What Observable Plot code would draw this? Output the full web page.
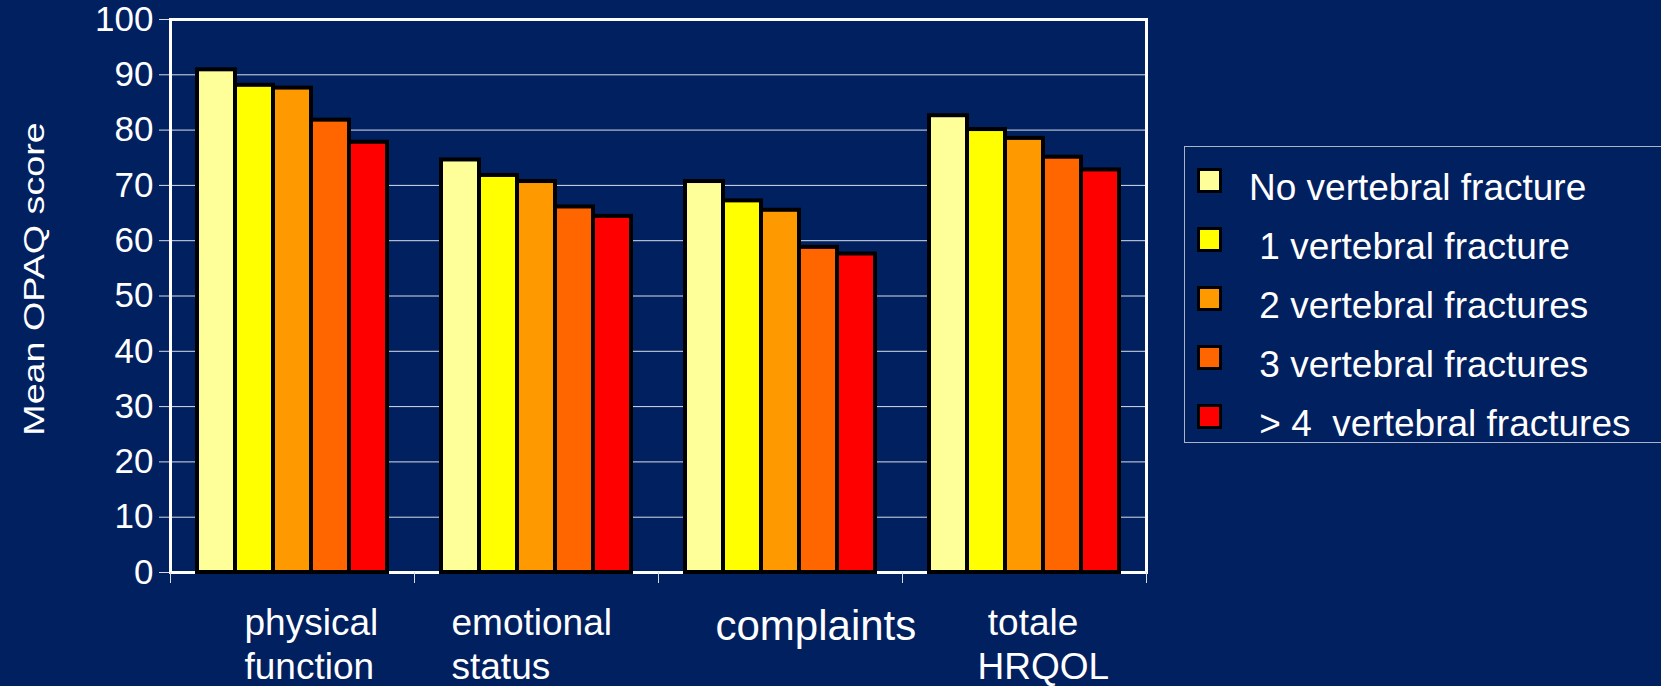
<!DOCTYPE html>
<html>
<head>
<meta charset="utf-8">
<script src="https://cdn.jsdelivr.net/npm/d3@7"></script>
<script src="https://cdn.jsdelivr.net/npm/@observablehq/plot@0.6"></script>
<style>
  html, body { margin: 0; padding: 0; background: #002060; }
  body { width: 1661px; height: 686px; position: relative; overflow: hidden;
         font-family: "Liberation Sans", Arial, sans-serif; }
  #chart { position: absolute; left: 0; top: 0; }
  #legend { position: absolute; left: 1184px; top: 146px; width: 490px; height: 297px;
            border: 1px solid #aab3c8; box-sizing: border-box; padding-top: 4px; }
  .row { display: flex; align-items: center; height: 59px; }
  .sw { width: 25px; height: 25px; box-sizing: border-box; border: 3px solid #000; margin-left: 12px; flex: none; }
  .lab { color: #fff; font-size: 37px; white-space: pre; margin-left: 27px; position: relative; top: 7px; line-height: 1; }
</style>
</head>
<body>
<div id="chart"></div>
<div id="legend"></div>
<script>
// Mean OPAQ scores by domain and number of vertebral fractures
const categories = ["physical function", "emotional status", "complaints", "totale HRQOL"];
const categoryLines = ["physical\nfunction", "emotional\nstatus", "complaints", "\u00a0totale\nHRQOL"];
const series = [
  "No vertebral fracture",
  " 1 vertebral fracture",
  " 2 vertebral fractures",
  " 3 vertebral fractures",
  " > 4  vertebral fractures"
];
const colors = ["#FFFF99", "#FFFF00", "#FF9900", "#FF6600", "#FF0000"];

const physicalFunction = [90.9, 88.1, 87.6, 81.8, 77.8];
const emotionalStatus  = [74.6, 71.8, 70.7, 66.1, 64.4];
const complaintsScore  = [70.7, 67.2, 65.5, 58.8, 57.6];
const totaleHrqol      = [82.6, 80.1, 78.5, 75.1, 72.8];

const yTicks = [0, 10, 20, 30, 40, 50, 60, 70, 80, 90, 100];
const yLabel = "Mean OPAQ score";

const values = [physicalFunction, emotionalStatus, complaintsScore, totaleHrqol];
const data = categories.flatMap((c, i) =>
  series.map((s, j) => ({category: c, series: s, value: values[i][j]}))
);

// layout
const W = 1661, H = 686, mTop = 19, mBottom = 114, mLeft = 168, mRight = 514;
const frameH = H - mTop - mBottom;
const labelDx = [74, 37, 57, 75];
const labelDy = [31, 31, 32, 31];
const labelSize = [37, 37, 42, 37];

const categoryLabels = categories.map((c, i) =>
  Plot.text([c], {
    fx: d => d,
    text: () => categoryLines[i],
    frameAnchor: "bottom-left",
    textAnchor: "start",
    lineAnchor: "top",
    lineHeight: 1.2,
    dx: labelDx[i],
    dy: labelDy[i],
    fontSize: labelSize[i],
    fill: "white"
  })
);

const chart = Plot.plot({
  width: W,
  height: H,
  marginTop: mTop,
  marginBottom: mBottom,
  marginLeft: mLeft,
  marginRight: mRight,
  style: {
    background: "#002060",
    color: "white",
    fontFamily: "'Liberation Sans', Arial, sans-serif",
    overflow: "visible"
  },
  fx: {domain: categories, padding: 0, axis: null, label: null},
  x: {domain: series, paddingInner: 0, paddingOuter: 0.7, axis: null},
  y: {domain: [0, 100]},
  color: {domain: series, range: colors},
  marks: [
    Plot.gridY(yTicks, {stroke: "white", strokeOpacity: 0.85, strokeWidth: 1}),
    Plot.axisY(yTicks, {tickSize: 11, tickPadding: 6, fontSize: 35, label: null, stroke: "#d8dbe4", fill: "white"}),
    Plot.ruleY([0, 100], {stroke: "white", strokeWidth: 3}),
    Plot.frame({anchor: "left", fx: categories[0], stroke: "white", strokeWidth: 3}),
    Plot.frame({anchor: "right", fx: categories[categories.length - 1], stroke: "white", strokeWidth: 3}),
    // short ticks below the baseline at the group boundaries
    Plot.frame({anchor: "left", insetTop: frameH, insetBottom: -10, stroke: "#d8dbe4", strokeWidth: 1}),
    Plot.frame({anchor: "right", fx: categories[categories.length - 1], insetTop: frameH, insetBottom: -10, stroke: "#d8dbe4", strokeWidth: 1}),
    Plot.barY(data, {fx: "category", x: "series", y: "value", fill: "series", stroke: "black", strokeWidth: 4}),
    Plot.text([yLabel], {
      fx: () => categories[0],
      text: d => d,
      frameAnchor: "left",
      textAnchor: "middle",
      rotate: -90,
      dx: -136,
      dy: -17,
      fontSize: 29,
      fill: "white"
    }),
    ...categoryLabels
  ]
});

// the axis title is drawn wider than its font height
const yl = Array.from(chart.querySelectorAll("text")).find(t => t.textContent === yLabel);
if (yl) yl.setAttribute("transform", (yl.getAttribute("transform") || "") + " scale(1.3,1)");

document.getElementById("chart").appendChild(chart);

// legend
const legend = document.getElementById("legend");
series.forEach((s, i) => {
  const row = document.createElement("div");
  row.className = "row";
  const sw = document.createElement("div");
  sw.className = "sw";
  sw.style.background = colors[i];
  const lab = document.createElement("span");
  lab.className = "lab";
  lab.textContent = s;
  row.appendChild(sw);
  row.appendChild(lab);
  legend.appendChild(row);
});
</script>
</body>
</html>
